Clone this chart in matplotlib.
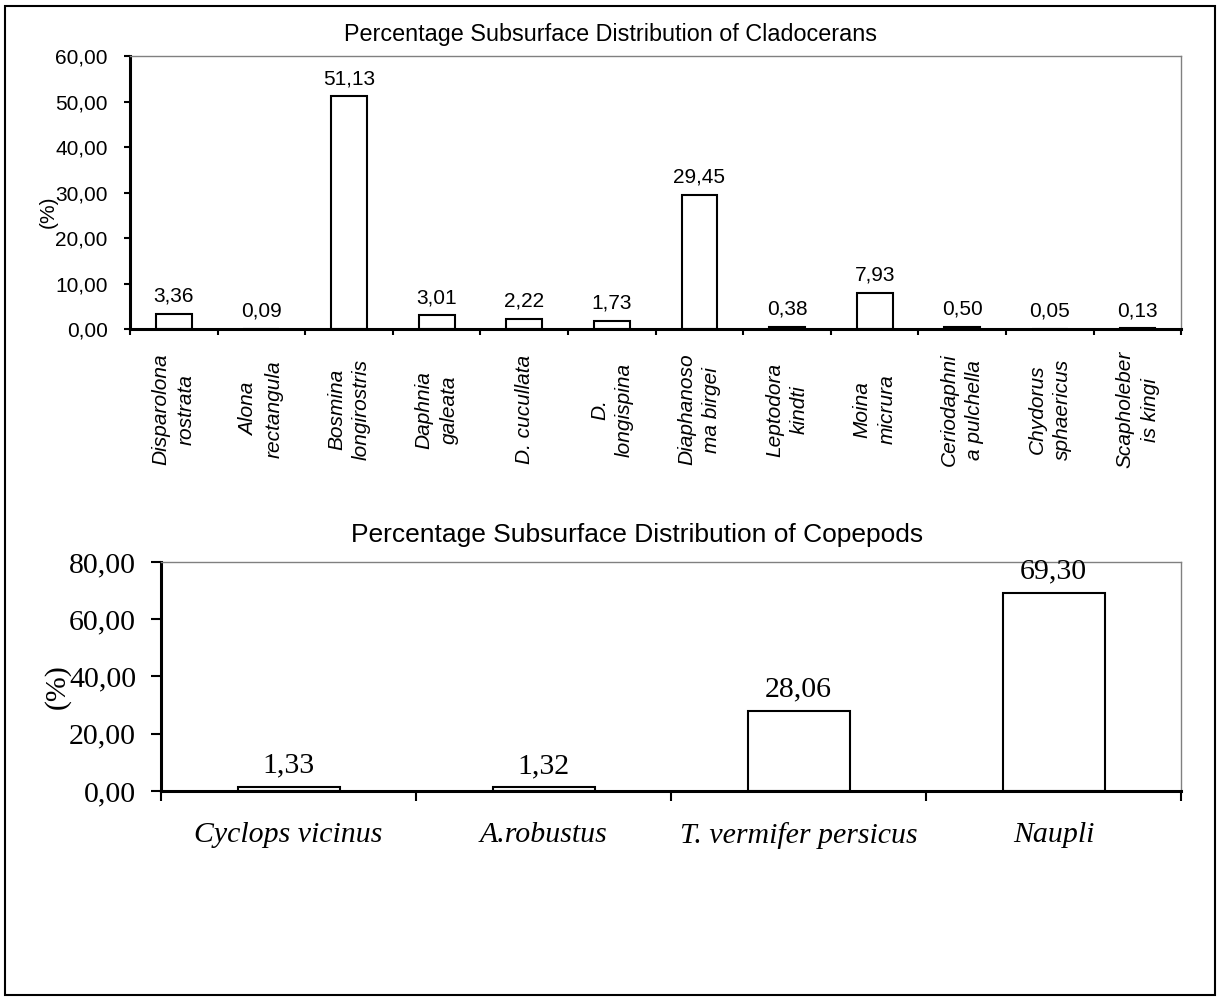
import numpy as np
import matplotlib
matplotlib.use('Agg')
import matplotlib.pyplot as plt
import matplotlib.patches as patches
from matplotlib.ticker import FuncFormatter, FixedLocator


# Datos

clad_names = ['Disparolona\nrostrata', 'Alona\nrectangula', 'Bosmina\nlongirostris',
              'Daphnia\ngaleata', 'D. cucullata', 'D.\nlongispina',
              'Diaphanoso\nma birgei', 'Leptodora\nkindti', 'Moina\nmicrura',
              'Ceriodaphni\na pulchella', 'Chydorus\nsphaericus', 'Scapholeber\nis kingi']

clad_vals = [3.36, 0.09, 51.13, 3.01, 2.22, 1.73, 29.45, 0.38, 7.93, 0.50, 0.05, 0.13]

cope_names = ['Cyclops vicinus', 'A.robustus', 'T. vermifer persicus', 'Naupli']

cope_vals = [1.33, 1.32, 28.06, 69.30]


SANS = 'Liberation Sans'
SERIF = 'Liberation Serif'

comma = FuncFormatter(lambda v, p: '{:.2f}'.format(v).replace('.', ','))


def style_axes(ax, n, lw_tick, tick_len, lab_pad, fam, fs):

    for s in ['top', 'right']:
        ax.spines[s].set_color('#808080')
        ax.spines[s].set_linewidth(1)
    for s in ['left', 'bottom']:
        ax.spines[s].set_color('black')
        ax.spines[s].set_linewidth(2.2)

    ax.set_xlim(-0.5, n - 0.5)
    ax.xaxis.set_major_locator(FixedLocator(np.arange(n + 1) - 0.5))
    ax.xaxis.set_major_formatter(FuncFormatter(lambda v, p: ''))
    ax.tick_params(axis='x', which='major', direction='out', length=tick_len, width=lw_tick)
    ax.tick_params(axis='y', which='major', direction='out', length=tick_len, width=lw_tick,
                   pad=lab_pad, labelsize=fs)
    ax.yaxis.set_major_formatter(comma)
    for t in ax.get_yticklabels():
        t.set_fontfamily(fam)


fig = plt.figure(figsize=(12.21, 10.01), dpi=100)


# Cladoceros

ax1 = fig.add_axes([0.1065, 0.6713, 0.861, 0.2727])

x1 = np.arange(len(clad_vals))

ax1.bar(x1, clad_vals, width=0.41, color='white', edgecolor='black', linewidth=1.5)

ax1.set_ylim(0, 60)
ax1.set_yticks(np.arange(0, 61, 10))
style_axes(ax1, len(clad_vals), 1.5, 4, 12, SANS, 15)

ax1.set_xticks(x1, minor=True)
ax1.set_xticklabels(clad_names, minor=True, rotation=90, va='center', ha='center',
                    multialignment='center', linespacing=1.4,
                    fontfamily=SANS, fontstyle='italic', fontsize=15)
ax1.tick_params(axis='x', which='minor', length=0, pad=58)

for xi, v in zip(x1, clad_vals):
    ax1.annotate('{:.2f}'.format(v).replace('.', ','), (xi, v), xytext=(0, 6),
                 textcoords='offset points', ha='center', va='bottom',
                 fontfamily=SANS, fontsize=15)

ax1.set_ylabel('(%)', fontfamily=SANS, fontsize=15)
ax1.yaxis.set_label_coords(-0.069, 0.43)

fig.text(610 / 1221, 1 - 34 / 1001, 'Percentage Subsurface Distribution of Cladocerans',
         ha='center', va='center', fontfamily=SANS, fontsize=16.8)


# Copepodos

ax2 = fig.add_axes([0.1319, 0.2098, 0.8354, 0.2288])

x2 = np.arange(len(cope_vals))

ax2.bar(x2, cope_vals, width=0.4, color='white', edgecolor='black', linewidth=1.5)

ax2.set_ylim(0, 80)
ax2.set_yticks(np.arange(0, 81, 20))
style_axes(ax2, len(cope_vals), 1.5, 7, 11, SERIF, 21.5)

ax2.set_xticks(x2, minor=True)
ax2.set_xticklabels(cope_names, minor=True, va='center', ha='center',
                    fontfamily=SERIF, fontstyle='italic', fontsize=21.5)
ax2.tick_params(axis='x', which='minor', length=0, pad=32)

for xi, v in zip(x2, cope_vals):
    ax2.annotate('{:.2f}'.format(v).replace('.', ','), (xi, v), xytext=(0, 6),
                 textcoords='offset points', ha='center', va='bottom',
                 fontfamily=SERIF, fontsize=21.5)

ax2.set_ylabel('(%)', fontfamily=SERIF, fontsize=21.5)
ax2.yaxis.set_label_coords(-0.089, 0.458)

fig.text(637 / 1221, 1 - 535 / 1001, 'Percentage Subsurface Distribution of Copepods',
         ha='center', va='center', fontfamily=SANS, fontsize=19)


# Marco exterior

fig.patches.append(patches.Rectangle((0.004, 0.006), 0.991, 0.988, transform=fig.transFigure,
                                     fill=False, edgecolor='black', linewidth=1.5))

fig.savefig('out.png', dpi=100)
